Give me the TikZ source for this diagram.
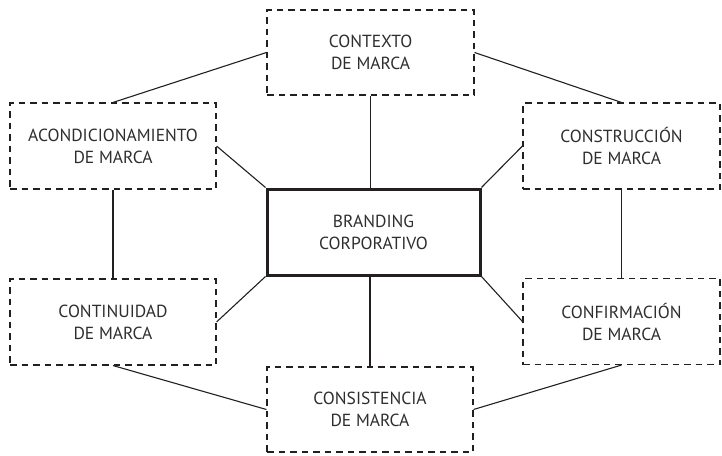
\documentclass[tikz,border=0pt]{standalone}
\usepackage{fontspec}
\setmainfont{PT Sans}
\usetikzlibrary{positioning}
\definecolor{cink}{HTML}{231F20}
\definecolor{ctext}{HTML}{2E2E2E}
\tikzset{
  every picture/.style={line width=1.1pt},
  box/.style={draw=cink, dash pattern=on 6.5pt off 5pt, align=center, inner sep=0pt,
    minimum width=#1, minimum height=86pt, text=ctext, font=\fontsize{17.5}{22}\selectfont},
  box/.default=206pt,
  hub/.style={box=213pt, solid, line width=3pt, draw=cink},
  link/.style={draw=cink, line width=1.1pt},
}

\begin{document}
\begin{tikzpicture}[x=1pt, y=-1pt]
  \useasboundingbox (0,0) rectangle (722,455);
  % centre and the six satellites
  \node[hub] (brand) at (373.5,232) {BRANDING\\CORPORATIVO};
  \node[box=207pt, minimum height=85pt] (ctx) at (370.5,52.5) {CONTEXTO\\DE MARCA};
  \node[box] (acon) at (113,146) {ACONDICIONAMIENTO\\DE MARCA};
  \node[box=197pt] (cons) at (621.5,146) {CONSTRUCCIÓN\\DE MARCA};
  \node[box] (cont) at (113,322) {CONTINUIDAD\\DE MARCA};
  \node[box=197pt] (conf) at (621.5,321.5) {CONFIRMACIÓN\\DE MARCA};
  \node[box, minimum height=85pt] (csis) at (370,409.5) {CONSISTENCIA\\DE MARCA};
  % spokes
  \draw[link] (ctx.south) -- (ctx.south |- brand.north);
  \draw[link] (csis.north) -- (csis.north |- brand.south);
  \draw[link] (acon.east) -- (brand.north west);
  \draw[link] (cons.west) -- (brand.north east);
  \draw[link] (cont.east) -- (brand.south west);
  \draw[link] (conf.west) -- (brand.south east);
  % outer ring
  \draw[link] (ctx.west) -- (acon.north);
  \draw[link] (ctx.east) -- (cons.north);
  \draw[link] (acon.south) -- (cont.north);
  \draw[link] (cons.south) -- (conf.north);
  \draw[link] (cont.south) -- (csis.west);
  \draw[link] (conf.south) -- (csis.east);
\end{tikzpicture}
\end{document}
